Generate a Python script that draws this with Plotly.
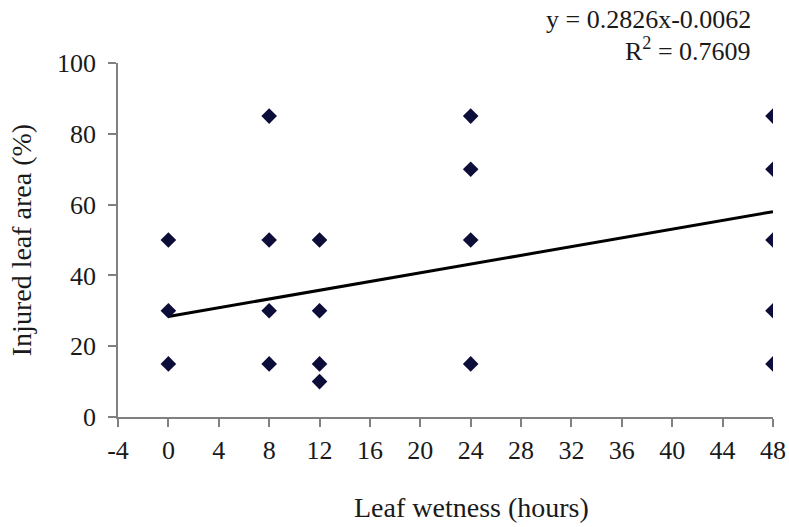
import plotly.graph_objects as go

# Data
leaf_wetness = [0, 0, 0,
                8, 8, 8, 8,
                12, 12, 12, 12,
                24, 24, 24, 24,
                48, 48, 48, 48, 48]
injured_area = [15, 30, 50,
                15, 30, 50, 85,
                10, 15, 30, 50,
                15, 50, 70, 85,
                15, 30, 50, 70, 85]

trend_x = [0, 48]
trend_y = [28.4, 58.0]

x_ticks = [-4, 0, 4, 8, 12, 16, 20, 24, 28, 32, 36, 40, 44, 48]
y_ticks = [0, 20, 40, 60, 80, 100]

x_title = "Leaf wetness (hours)"
y_title = "Injured leaf area (%)"
equation_text = "y = 0.2826x-0.0062"
r2_text = "R<sup>2</sup> = 0.7609"

FONT = "Liberation Serif"
TXT = "#1a1a1a"
AX = "#808080"

# body margin is removed via post_script, so page pixels == figure pixels
W, H = 789, 527
L, R, T, B = 118, W - 773, 63, H - 417
pw = W - L - R
ph = H - T - B


def px_to_paper(px, py):
    return (px - L) / pw, (H - B - py) / ph


fig = go.Figure()
fig.add_trace(go.Scatter(
    x=trend_x, y=trend_y, mode="lines",
    line=dict(color="#000000", width=3), showlegend=False, hoverinfo="skip"))
fig.add_trace(go.Scatter(
    x=leaf_wetness, y=injured_area, mode="markers",
    marker=dict(symbol="diamond", size=12, color="#0d0d3a",
                line=dict(width=0)),
    showlegend=False))

anns = []
for txt, px, py in [(equation_text, 753, 20), (r2_text, 753, 49)]:
    ax_, ay_ = px_to_paper(px, py)
    anns.append(dict(text=txt, x=ax_, y=ay_,
                     xref="paper", yref="paper", xanchor="right", yanchor="middle",
                     showarrow=False,
                     font=dict(family=FONT, size=26, color=TXT)))
tx, ty = px_to_paper(472, 508)
anns.append(dict(text=x_title, x=tx, y=ty, xref="paper", yref="paper",
                 xanchor="center", yanchor="middle", showarrow=False,
                 font=dict(family=FONT, size=28, color=TXT)))

fig.update_layout(
    width=W, height=H,
    margin=dict(l=L, r=R, t=T, b=B, autoexpand=False),
    paper_bgcolor="white", plot_bgcolor="white",
    font=dict(family=FONT, size=26, color=TXT),
    xaxis=dict(
        range=[-4, 48], tickvals=x_ticks, ticktext=[str(v) for v in x_ticks],
        showgrid=False, zeroline=False, automargin=False,
        showline=True, linecolor=AX, linewidth=1.5,
        ticks="outside", ticklen=8, tickcolor=AX, tickwidth=1.5,
        tickfont=dict(family=FONT, size=26, color=TXT),
        ticklabelstandoff=1, ticklabeloverflow="allow",
    ),
    yaxis=dict(
        range=[0, 100], tickvals=y_ticks, ticktext=[str(v) for v in y_ticks],
        showgrid=False, zeroline=False, automargin=False,
        showline=True, linecolor=AX, linewidth=1.5,
        ticks="outside", ticklen=8, tickcolor=AX, tickwidth=1.5,
        tickfont=dict(family=FONT, size=26, color=TXT),
        ticklabelstandoff=7, ticklabeloverflow="allow",
        title=dict(text=y_title, standoff=17,
                   font=dict(family=FONT, size=28, color=TXT)),
    ),
    annotations=anns,
)

fig.write_html("out.html",
               config={"displayModeBar": False},
               post_script="document.body.style.margin='0';document.body.style.overflow='hidden';")
